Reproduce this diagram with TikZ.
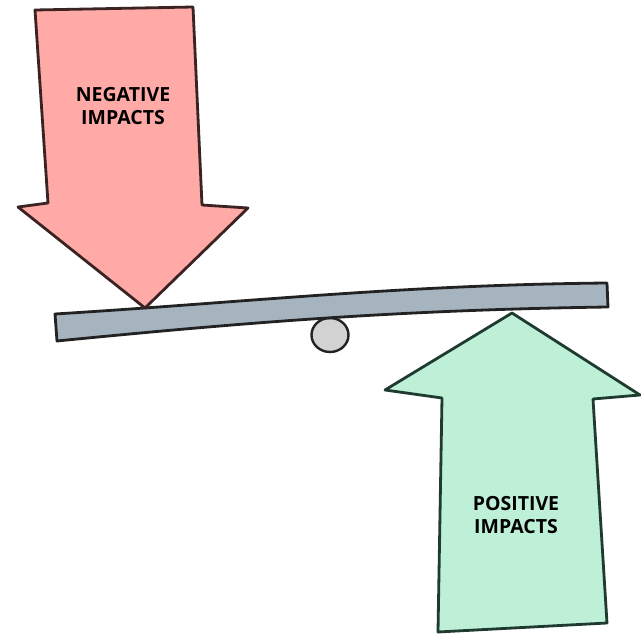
\documentclass[tikz,border=0pt]{standalone}
\usepackage{fontspec}
\usetikzlibrary{shapes.geometric}
\setmainfont{Open Sans}
\newfontfamily\labelfont{Open Sans}
\definecolor{negfill}{HTML}{FFAAA6}
\definecolor{negline}{HTML}{3A2322}
\definecolor{posfill}{HTML}{BEF0D8}
\definecolor{posline}{HTML}{1F3A30}
\definecolor{beamfill}{HTML}{A6B4C0}
\definecolor{pivotfill}{HTML}{D2D2D2}
\definecolor{inkline}{HTML}{222222}
\begin{document}
\begin{tikzpicture}[x=1pt,y=-1pt,line join=round,
  outline/.style={line width=2.8pt},
  impact/.style={font=\labelfont\bfseries\fontsize{19.5}{23.5}\selectfont,align=center,text=black}]
\useasboundingbox (0,0) rectangle (641,634);

% pivot under the beam
\node[draw=inkline,fill=pivotfill,line width=2.4pt,ellipse,
      minimum width=37pt,minimum height=34pt,inner sep=0pt] (pivot) at (330,335) {};

% the beam, bowed slightly upward
\draw[outline,draw=inkline,fill=beamfill]
  (55,314) .. controls (250,302) and (400,285) .. (607,283)
  -- (608,307)
  .. controls (400,310) and (250,322) .. (57,341) -- cycle;

% downward arrow
\draw[outline,draw=negline,fill=negfill]
  (35,10) -- (193,7) -- (202,205) -- (248,208) -- (145,308)
  -- (18,207) -- (48,203) -- cycle;
\node[impact] (neg) at (123,106) {NEGATIVE\\IMPACTS};

% upward arrow
\draw[outline,draw=posline,fill=posfill]
  (512,313) -- (640,395) -- (593,399) -- (607,623) -- (438,632)
  -- (442,398) -- (385,390) -- cycle;
\node[impact] (pos) at (516,515) {POSITIVE\\IMPACTS};
\end{tikzpicture}
\end{document}
